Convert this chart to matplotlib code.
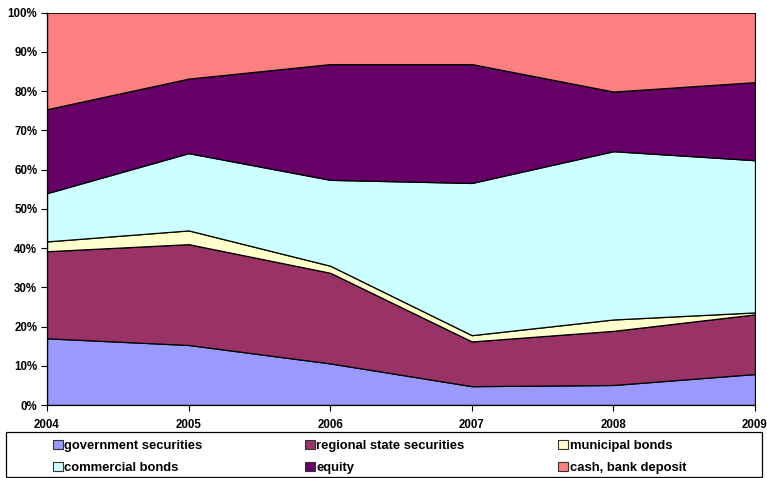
import matplotlib
matplotlib.use("Agg")
import matplotlib.pyplot as plt
from matplotlib.patches import Rectangle
import numpy as np

# Portfolio structure by year, share of total (%)
years = [2004, 2005, 2006, 2007, 2008, 2009]
series_names = [
    "government securities",
    "regional state securities",
    "municipal bonds",
    "commercial bonds",
    "equity",
    "cash, bank deposit",
]
government = [17.0, 15.3, 10.6, 4.8, 5.1, 7.9]
regional = [22.2, 25.7, 23.1, 11.4, 13.8, 15.2]
municipal = [2.5, 3.5, 1.8, 1.6, 2.9, 0.5]
commercial = [12.3, 19.7, 21.9, 38.8, 42.9, 38.8]
equity = [21.4, 19.0, 29.5, 30.3, 15.2, 19.9]
cash = [24.6, 16.8, 13.1, 13.1, 20.1, 17.7]
colors = ["#9999FF", "#993366", "#FFFFCC", "#CCFFFF", "#660066", "#FF8080"]

W, H, DPI = 767, 478, 100
fig = plt.figure(figsize=(W / DPI, H / DPI), dpi=DPI)
plt.rcParams["font.family"] = ["Liberation Sans", "DejaVu Sans"]

ax = fig.add_axes([47 / W, (H - 405) / H, (755 - 47) / W, (405 - 12.7) / H])

data = np.array([government, regional, municipal, commercial, equity, cash])
shares = data / data.sum(axis=0) * 100
lower = np.zeros(len(years))
for vals, col in zip(shares, colors):
    upper = lower + vals
    ax.fill_between(years, lower, upper, facecolor=col, edgecolor="black",
                    linewidth=0.9, zorder=2)
    lower = upper

ax.set_xlim(years[0], years[-1])
ax.set_ylim(0, 100)
ax.set_yticks(np.arange(0, 101, 10))
ax.set_yticklabels([f"{v}%" for v in range(0, 101, 10)])
ax.set_xticks(years)
ax.set_xticklabels([str(y) for y in years])
for lab in ax.get_xticklabels() + ax.get_yticklabels():
    lab.set_fontweight("bold")
    lab.set_fontsize(8.3)
ax.tick_params(axis="both", direction="out", length=4, width=0.8, color="black")
ax.tick_params(axis="x", pad=6)
ax.tick_params(axis="y", pad=3)
for side in ["top", "right"]:
    ax.spines[side].set_visible(False)
for side in ["left", "bottom"]:
    ax.spines[side].set_linewidth(0.9)
    ax.spines[side].set_zorder(3)

# Legend box below the plot
box_l, box_r, box_t, box_b = 6, 762, 432, 477
fig.patches.append(Rectangle((box_l / W, (H - box_b) / H),
                             (box_r - box_l) / W, (box_b - box_t) / H,
                             transform=fig.transFigure, facecolor="white",
                             edgecolor="black", linewidth=0.9))
col_x = [53, 305, 558]
row_y = [444.5, 466.5]
sq = 9.5
for i, (name, col) in enumerate(zip(series_names, colors)):
    cx = col_x[i % 3]
    cy = row_y[i // 3]
    fig.patches.append(Rectangle((cx / W, (H - cy - sq / 2) / H), sq / W, sq / H,
                                 transform=fig.transFigure, facecolor=col,
                                 edgecolor="#333333", linewidth=0.8))
    fig.text((cx + sq + 2) / W, (H - cy - 1.5) / H, name, fontsize=9.4,
             fontweight="bold", va="center", ha="left")

fig.savefig("out.png", dpi=DPI)
